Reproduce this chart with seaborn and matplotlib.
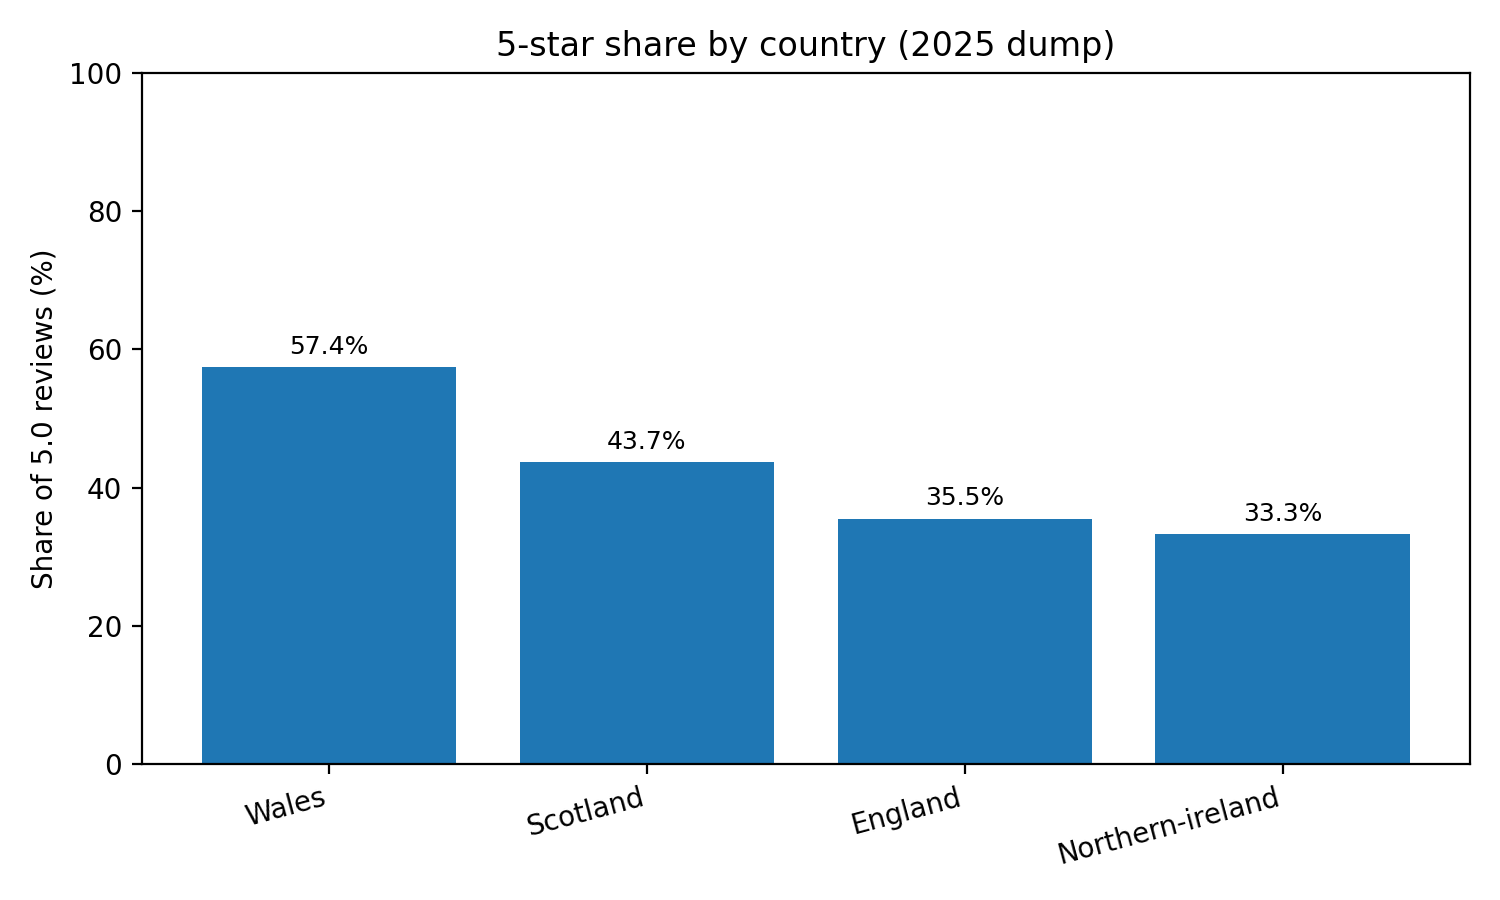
import matplotlib
matplotlib.use("Agg")
import matplotlib.pyplot as plt
import seaborn as sns
import pandas as pd

countries = ["Wales", "Scotland", "England", "Northern-ireland"]
share_5star = [57.4, 43.7, 35.5, 33.3]

df = pd.DataFrame({"country": countries, "share": share_5star})

fig, ax = plt.subplots(figsize=(7.5, 4.5), dpi=200)
sns.barplot(data=df, x="country", y="share", color="#1f77b4", saturation=1,
            width=0.8, ax=ax)

# labels on top of each bar
for cont in ax.containers:
    ax.bar_label(cont, labels=[f"{v:.1f}%" for v in share_5star], padding=3, fontsize=9)

ax.set_xlim(-0.59, len(countries) - 1 + 0.59)
ax.set_ylim(0, 100)
ax.set_title("5-star share by country (2025 dump)")
ax.set_xlabel("")
ax.set_ylabel("Share of 5.0 reviews (%)")
plt.setp(ax.get_xticklabels(), rotation=15, ha="right")
plt.tight_layout()
plt.savefig("out.png", dpi=200)
